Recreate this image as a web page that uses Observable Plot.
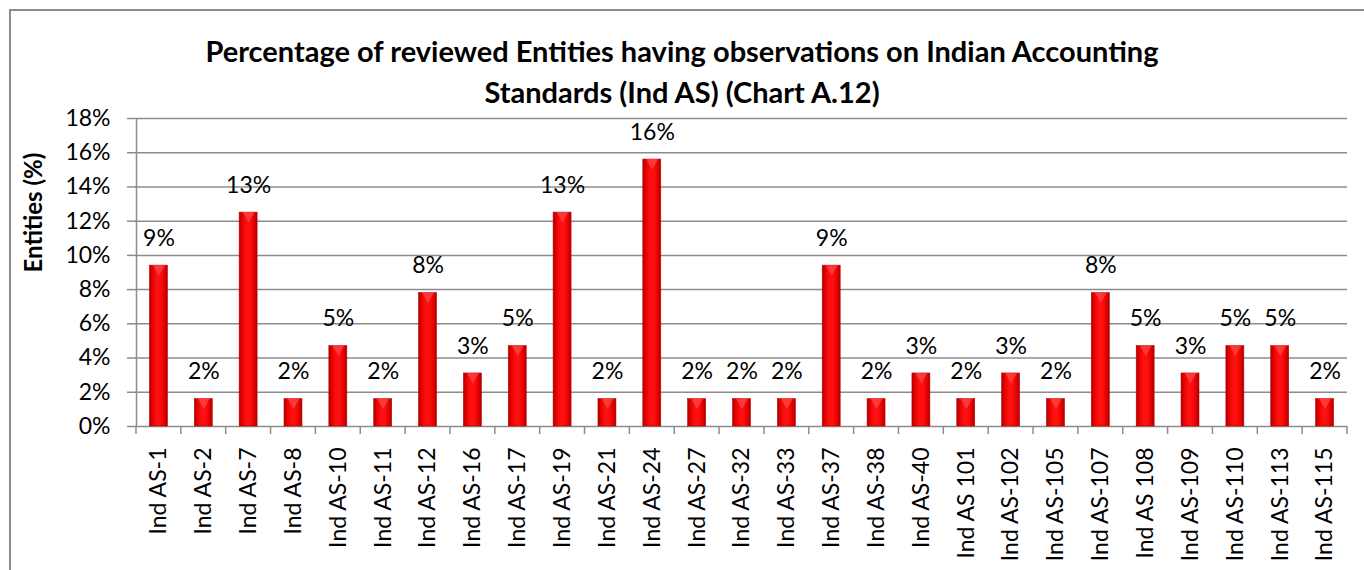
<!DOCTYPE html>
<html>
<head>
<meta charset="utf-8">
<script src="https://cdn.jsdelivr.net/npm/d3@7"></script>
<script src="https://cdn.jsdelivr.net/npm/@observablehq/plot@0.6"></script>
<style>
  html, body { margin: 0; padding: 0; background: #fff; }
  body { width: 1364px; height: 570px; position: relative; overflow: hidden; font-family: Lato, "Open Sans", sans-serif; }
  #frame { position: absolute; left: 9px; top: 9px; width: 1400px; height: 600px; border-left: 2px solid #8c8c8c; border-top: 2px solid #8c8c8c; }
  #title { position: absolute; left: 0; top: 30px; width: 1364px; text-align: center; font-weight: bold; font-size: 29px; line-height: 41px; color: #000; z-index: 2; }
  #chart { position: absolute; left: 0; top: 95px; z-index: 1; }
  #chart svg { background: transparent; overflow: visible; }
</style>
</head>
<body>
<div id="frame"></div>
<div id="title">Percentage of reviewed Entities having observations on Indian Accounting<br>Standards (Ind AS) (Chart A.12)</div>
<div id="chart"></div>
<script>
const categories = ["Ind AS-1","Ind AS-2","Ind AS-7","Ind AS-8","Ind AS-10","Ind AS-11","Ind AS-12","Ind AS-16","Ind AS-17","Ind AS-19","Ind AS-21","Ind AS-24","Ind AS-27","Ind AS-32","Ind AS-33","Ind AS-37","Ind AS-38","Ind AS-40","Ind AS 101","Ind AS-102","Ind AS-105","Ind AS-107","Ind AS 108","Ind AS-109","Ind AS-110","Ind AS-113","Ind AS-115"];
const values = [9.4,1.6,12.5,1.6,4.7,1.6,7.8,3.1,4.7,12.5,1.6,15.6,1.6,1.6,1.6,9.4,1.6,3.1,1.6,3.1,1.6,7.8,4.7,3.1,4.7,4.7,1.6];
const yTicks = [0,2,4,6,8,10,12,14,16,18];
const yTitle = "Entities (%)";

const data = categories.map((c, i) => ({category: c, value: values[i]}));

const W = 1364, H = 475, mL = 136, mR = 17, mT = 23, mB = 144;
const step = (W - mL - mR) / categories.length;
const grey = "#8c8c8c";

const chart = Plot.plot({
  width: W, height: H,
  marginLeft: mL, marginRight: mR, marginTop: mT, marginBottom: mB,
  style: {fontFamily: "Lato, 'Open Sans', sans-serif", color: "#000", background: "transparent"},
  x: {type: "band", domain: categories, paddingInner: 0.6, paddingOuter: 0.3, round: false, axis: null},
  y: {domain: [0, 18], axis: null},
  marks: [
    Plot.gridY(yTicks, {stroke: grey, strokeOpacity: 1, strokeWidth: 1.5}),
    Plot.ruleX([categories[0]], {dx: -step / 2, stroke: grey, strokeWidth: 1.5}),
    Plot.axisY({ticks: yTicks, tickSize: 9, tickPadding: 17, tickFormat: d => d + "%", fontSize: 23, stroke: grey, strokeWidth: 1.5, label: null}),
    Plot.axisX({tickSize: 0, tickPadding: 21, tickRotate: -90, fontSize: 23, label: null}),
    Plot.barY(data, {x: "category", y: "value", fill: "url(#barGrad)", stroke: "#b80000", strokeWidth: 0.6}),
    Plot.dot(data, {x: "category", y: "value", symbol: "triangle", rotate: 180, r: 4.5, dy: 3, fill: "#ff6a6a", fillOpacity: 0.45, stroke: "none"}),
    Plot.text(data, {x: "category", y: "value", text: d => Math.round(d.value) + "%", dy: -27, fontSize: 23, fill: "#000"}),
    Plot.text([yTitle], {frameAnchor: "left", text: d => d, rotate: -90, dx: -102, fontSize: 24, fontWeight: "bold", fill: "#000"})
  ]
});

// gradient definition for the cylinder-like bars
const svg = d3.select(chart.tagName.toLowerCase() === "svg" ? chart : chart.querySelector("svg"));
const grad = svg.insert("defs", ":first-child").append("linearGradient")
  .attr("id", "barGrad").attr("x1", "0").attr("x2", "1").attr("y1", "0").attr("y2", "0");
[["0%", "#a80000"], ["14%", "#e00000"], ["40%", "#ff1010"], ["60%", "#ff1010"], ["86%", "#e00000"], ["100%", "#a80000"]]
  .forEach(([o, c]) => grad.append("stop").attr("offset", o).attr("stop-color", c));

// category boundary tick marks below the x axis, from the library's x scale
const xs = chart.scale("x");
const y0 = chart.scale("y").apply(0);
const bounds = categories.map(c => xs.apply(c) - (xs.step - xs.bandwidth) / 2);
bounds.push(xs.apply(categories[categories.length - 1]) + xs.bandwidth + (xs.step - xs.bandwidth) / 2);
svg.append("g").selectAll("line").data(bounds).join("line")
  .attr("x1", d => d).attr("x2", d => d).attr("y1", y0).attr("y2", y0 + 8)
  .attr("stroke", grey).attr("stroke-width", 1.5);

document.getElementById("chart").appendChild(chart);
</script>
</body>
</html>
